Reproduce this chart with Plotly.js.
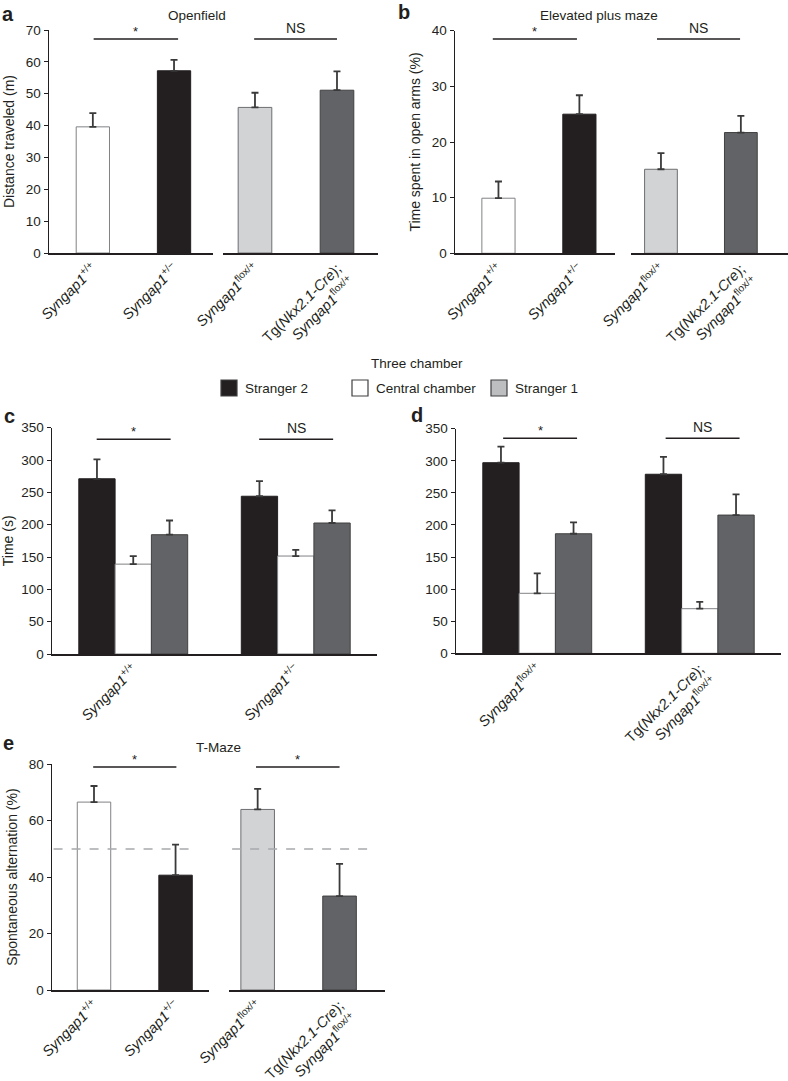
<!DOCTYPE html>
<html>
<head>
<meta charset="utf-8">
<script src="https://cdn.plot.ly/plotly-3.0.1.min.js"></script>
<style>
  html, body { margin: 0; padding: 0; background: #fff; }
  #chart { width: 788px; height: 1081px; }
</style>
</head>
<body>
<div id="chart"></div>
<script>
// Genotype labels (tick text)
const wtHetLabels = ['<i>Syngap1</i><sup>+/+</sup>', '<i>Syngap1</i><sup>+/−</sup>'];
const floxLabels = ['<i>Syngap1</i><sup>flox/+</sup>', 'Tg(<i>Nkx2.1-Cre</i>);<br><i>Syngap1</i><sup>flox/+</sup>'];

// a - Openfield, distance traveled (m)
const openfieldMean = [39.6, 57.2, 45.7, 51.1];
const openfieldSem = [4.3, 3.4, 4.6, 5.9];

// b - Elevated plus maze, time in open arms (%)
const epmMean = [9.9, 25.0, 15.1, 21.7];
const epmSem = [3.0, 3.4, 2.9, 3.0];

// c / d - Three chamber, time (s)
const chamberLabels = ['Stranger 2', 'Central chamber', 'Stranger 1'];
const chamberC = { mean: [[271, 244], [139, 151.5], [184.5, 202.6]], sem: [[30, 23.5], [12.5, 9.5], [22, 19.4]] };
const chamberD = { mean: [[297, 279], [93.5, 69.5], [186.3, 215.4]], sem: [[25, 27], [31, 10.5], [17.7, 32.3]] };

// e - T-Maze, spontaneous alternation (%)
const tmazeMean = [66.6, 40.7, 64.0, 33.3];
const tmazeSem = [5.7, 10.8, 7.3, 11.4];

// significance marks per panel: [left group, right group]
const sigA = ['*', 'NS'], sigB = ['*', 'NS'], sigC = '*', sigD = 'NS', sigE = ['*', '*'];

const W = 788, H = 1081;
const px = x => x / W;
const py = y => 1 - y / H;

const FONT = 'Liberation Sans, Arial, Helvetica, sans-serif';
const INK = '#231f20';
const genoColors = ['#ffffff', '#231f20', '#d1d3d4', '#626366'];
const genoLines = ['#808285', '#231f20', '#6d6e71', '#414042'];
const chamberColors = ['#231f20', '#ffffff', '#626366'];
const chamberLines = ['#231f20', '#808285', '#414042'];
const legendColors = ['#231f20', '#ffffff', '#bcbec0'];

function errY(sem) {
  return { type: 'data', symmetric: false, array: sem, arrayminus: sem.map(() => 0),
           color: '#3a3a3a', thickness: 1.8, width: 3.5 };
}

// one trace per genotype pair (bars coloured individually)
function pairTrace(labels, mean, sem, idx, xa, ya) {
  return {
    type: 'bar', x: labels, y: mean, xaxis: xa, yaxis: ya, width: 0.41,
    marker: { color: idx.map(i => genoColors[i]), line: { color: idx.map(i => genoLines[i]), width: 1 } },
    error_y: errY(sem), hoverinfo: 'y',
  };
}

const traces = [
  pairTrace(wtHetLabels, openfieldMean.slice(0, 2), openfieldSem.slice(0, 2), [0, 1], 'x', 'y'),
  pairTrace(floxLabels, openfieldMean.slice(2), openfieldSem.slice(2), [2, 3], 'x2', 'y'),
  pairTrace(wtHetLabels, epmMean.slice(0, 2), epmSem.slice(0, 2), [0, 1], 'x3', 'y2'),
  pairTrace(floxLabels, epmMean.slice(2), epmSem.slice(2), [2, 3], 'x4', 'y2'),
  pairTrace(wtHetLabels, tmazeMean.slice(0, 2), tmazeSem.slice(0, 2), [0, 1], 'x7', 'y5'),
  pairTrace(floxLabels, tmazeMean.slice(2), tmazeSem.slice(2), [2, 3], 'x8', 'y5'),
];

chamberLabels.forEach((name, k) => {
  traces.push({
    type: 'bar', name: name, x: wtHetLabels, y: chamberC.mean[k], xaxis: 'x5', yaxis: 'y3',
    marker: { color: chamberColors[k], line: { color: chamberLines[k], width: 1 } },
    error_y: errY(chamberC.sem[k]),
  });
  traces.push({
    type: 'bar', name: name, x: floxLabels, y: chamberD.mean[k], xaxis: 'x6', yaxis: 'y4',
    marker: { color: chamberColors[k], line: { color: chamberLines[k], width: 1 } },
    error_y: errY(chamberD.sem[k]),
  });
});

function yAx(dom, range, dtick, anchor, title) {
  return {
    domain: dom, range: range, dtick: dtick, anchor: anchor,
    showline: true, linecolor: INK, linewidth: 1.5, ticks: 'outside', ticklen: 4, tickcolor: INK,
    showgrid: false, zeroline: false, fixedrange: true,
    tickfont: { size: 13.5, color: INK, family: FONT },
    title: { text: title || '', font: { size: 14, color: INK, family: FONT }, standoff: 8 },
  };
}
function xAx(dom, range, anchor) {
  return {
    domain: dom, range: range, anchor: anchor, type: 'category',
    showline: true, linecolor: INK, linewidth: 1.5, ticks: '', showgrid: false, zeroline: false,
    tickangle: -45, tickfont: { size: 14.5, color: INK, family: FONT }, fixedrange: true,
  };
}

// significance bar + label
const shapes = [], annotations = [];
function sig(xa, ya, x0, x1, y, text) {
  shapes.push({ type: 'line', xref: xa, yref: ya, x0: x0, x1: x1, y0: y, y1: y, line: { color: INK, width: 1.5 } });
  annotations.push({ xref: xa, yref: ya, x: (x0 + x1) / 2, y: y, text: text, showarrow: false,
    yanchor: 'bottom', yshift: text === '*' ? -2 : 1, font: { size: text === '*' ? 13 : 14, color: INK, family: FONT } });
}
sig('x', 'y', 0.01, 1.05, 67.2, sigA[0]);
sig('x2', 'y', -0.01, 1.0, 67.2, sigA[1]);
sig('x3', 'y2', -0.07, 0.97, 38.5, sigB[0]);
sig('x4', 'y2', -0.05, 0.99, 38.5, sigB[1]);
sig('x5', 'y3', -0.225, 0.23, 332, sigC);
sig('x5', 'y3', 0.775, 1.23, 332, sigD);
sig('x6', 'y4', -0.21, 0.245, 335, sigC);
sig('x6', 'y4', 0.79, 1.245, 335, sigD);
sig('x7', 'y5', -0.01, 1.01, 79, sigE[0]);
sig('x8', 'y5', -0.02, 1.0, 79, sigE[1]);

// chance level in T-maze
shapes.push({ type: 'line', xref: 'x7 domain', yref: 'y5', x0: 0.01, x1: 0.89, y0: 50, y1: 50, line: { color: '#a7a9ac', width: 1.5, dash: 'dash' } });
shapes.push({ type: 'line', xref: 'x8 domain', yref: 'y5', x0: 0.02, x1: 0.94, y0: 50, y1: 50, line: { color: '#a7a9ac', width: 1.5, dash: 'dash' } });

// panel titles and letters
function note(x, y, text, size, bold, xanchor) {
  annotations.push({ xref: 'paper', yref: 'paper', x: px(x), y: py(y), text: bold ? '<b>' + text + '</b>' : text,
    showarrow: false, xanchor: xanchor || 'center', yanchor: 'middle', font: { size: size, color: INK, family: FONT } });
}
note(197, 16, 'Openfield', 13.5);
note(599, 16, 'Elevated plus maze', 13.5);
note(417, 364, 'Three chamber', 13.5);
note(218, 747, 'T-Maze', 13.5);
note(0, 14, 'a', 20, true, 'left');
note(396, 12, 'b', 20, true, 'left');
note(2, 416, 'c', 20, true, 'left');
note(409, 415, 'd', 20, true, 'left');
note(1, 743, 'e', 20, true, 'left');

// shared legend for three chamber panels
const legendX = [221, 352, 491];
chamberLabels.forEach((name, k) => {
  shapes.push({ type: 'rect', xref: 'paper', yref: 'paper', x0: px(legendX[k]), x1: px(legendX[k] + 16),
    y0: py(396), y1: py(380), fillcolor: legendColors[k], line: { color: '#414042', width: 1.2 } });
  note(legendX[k] + 22, 389, name, 13.5, false, 'left');
});

const layout = {
  width: W, height: H, margin: { l: 0, r: 0, t: 0, b: 0 },
  paper_bgcolor: '#ffffff', plot_bgcolor: 'rgba(0,0,0,0)',
  showlegend: false, barmode: 'group', bargap: 0.33, bargroupgap: 0,
  font: { family: FONT, color: INK },
  yaxis: yAx([py(253), py(30)], [0, 70], 10, 'x', 'Distance traveled (m)'),
  xaxis: xAx([px(49), px(213)], [-0.54, 1.48], 'y'),
  xaxis2: xAx([px(223), px(378)], [-0.39, 1.5], 'y'),
  yaxis2: yAx([py(253.3), py(30.7)], [0, 40], 10, 'x3', 'Time spent in open arms (%)'),
  xaxis3: xAx([px(455), px(615)], [-0.537, 1.44], 'y2'),
  xaxis4: xAx([px(631), px(788)], [-0.375, 1.59], 'y2'),
  yaxis3: yAx([py(654), py(427.7)], [0, 350], 50, 'x5', 'Time (s)'),
  xaxis5: xAx([px(52), px(377)], [-0.5, 1.5], 'y3'),
  yaxis4: yAx([py(653.3), py(428.7)], [0, 350], 50, 'x6'),
  xaxis6: xAx([px(456), px(781)], [-0.5, 1.5], 'y4'),
  yaxis5: yAx([py(990), py(764.3)], [0, 80], 20, 'x7', 'Spontaneous alternation (%)'),
  xaxis7: xAx([px(52), px(209)], [-0.515, 1.41], 'y5'),
  xaxis8: xAx([px(229), px(385)], [-0.35, 1.555], 'y5'),
  shapes: shapes,
  annotations: annotations,
};

Plotly.newPlot('chart', traces, layout, { displayModeBar: false, staticPlot: true });
</script>
</body>
</html>
